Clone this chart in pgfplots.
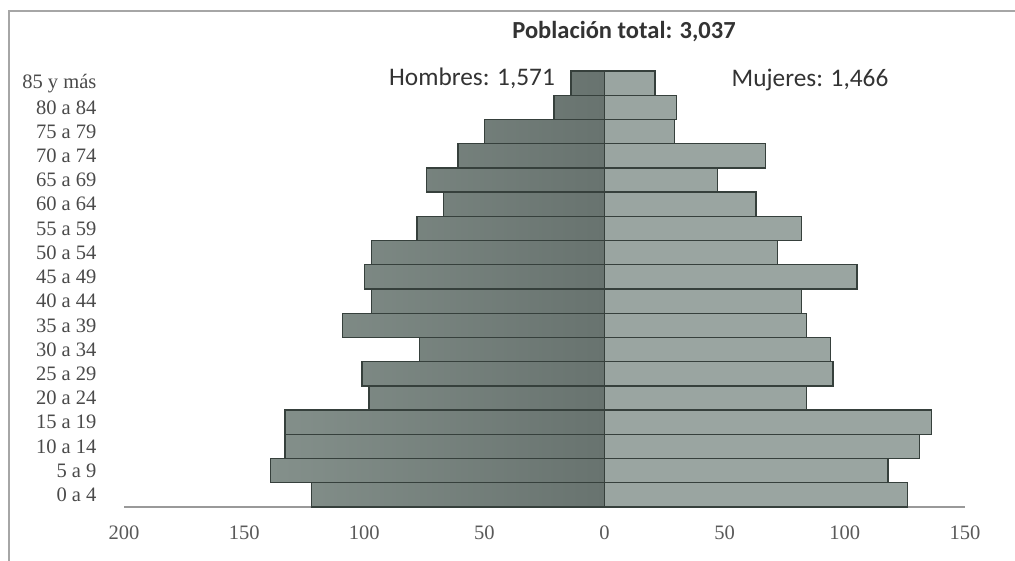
\documentclass[border=0pt]{standalone}
\usepackage{pgfplots}
\pgfplotsset{compat=1.18}
\usepackage{pgfplotstable}
\usepackage{fontspec}
\setmainfont{Liberation Serif}
\newfontfamily\calibri{Carlito}
\definecolor{menfillL}{HTML}{84908B}
\definecolor{menfillR}{HTML}{68736F}
\definecolor{womenfill}{HTML}{9AA5A1}
\definecolor{baredge}{HTML}{36403C}
\definecolor{txt}{HTML}{4A4A4A}
\pgfplotstableread{
y men women
0 -122 126
1 -139 118
2 -133 131
3 -133 136
4 -98 84
5 -101 95
6 -77 94
7 -109 84
8 -97 82
9 -100 105
10 -97 72
11 -78 82
12 -67 63
13 -74 47
14 -61 67
15 -50 29
16 -21 30
17 -14 21
}\datatable
\begin{document}
\begin{tikzpicture}
\path[use as bounding box] (0,0) rectangle (507.5bp,-280.5bp);
\draw[gray!70, line width=0.8bp] (4.6bp,-280.5bp) -- (4.6bp,-5.6bp) -- (507.5bp,-5.6bp);
\begin{axis}[
  at={(62bp,-253.5bp)}, anchor=south west,
  scale only axis, width=420.5bp, height=218bp,
  xmin=-200, xmax=150, ymin=-0.5, ymax=17.5,
  axis x line*=bottom, axis y line*=left,
  x axis line style={draw=gray!80, line width=0.75bp, -},
  y axis line style={draw=none},
  tick style={draw=none},
  xtick={-200,-150,-100,-50,0,50,100,150},
  xticklabels={200,150,100,50,0,50,100,150},
  ytick={0,...,17},
  yticklabels={0 a 4,5 a 9,10 a 14,15 a 19,20 a 24,25 a 29,30 a 34,35 a 39,40 a 44,45 a 49,50 a 54,55 a 59,60 a 64,65 a 69,70 a 74,75 a 79,80 a 84,85 y más},
  /pgf/number format/assume math mode=true,
  ticklabel style={font=\fontsize{10.3}{12}\selectfont, text=txt},
  xticklabel style={yshift=-6bp, text=black!65},
  yticklabel style={xshift=-6bp, anchor=east},
  xbar, bar width=1, bar shift=0pt,
  clip=false,
]
\addplot[draw=baredge, line width=0.7bp, left color=menfillL, right color=menfillR] table[x=men, y=y] {\datatable};
\addplot[draw=baredge, line width=0.7bp, fill=womenfill] table[x=women, y=y] {\datatable};
\end{axis}
\node[font=\calibri\bfseries\fontsize{12.3}{14}\selectfont, text=black!80] at (312bp,-16bp) {Población total: 3,037};
\node[font=\calibri\fontsize{12.7}{14}\selectfont, text=black!80] at (236bp,-39bp) {Hombres: 1,571};
\node[font=\calibri\fontsize{12.7}{14}\selectfont, text=black!80] at (405bp,-40bp) {Mujeres: 1,466};
\end{tikzpicture}
\end{document}
